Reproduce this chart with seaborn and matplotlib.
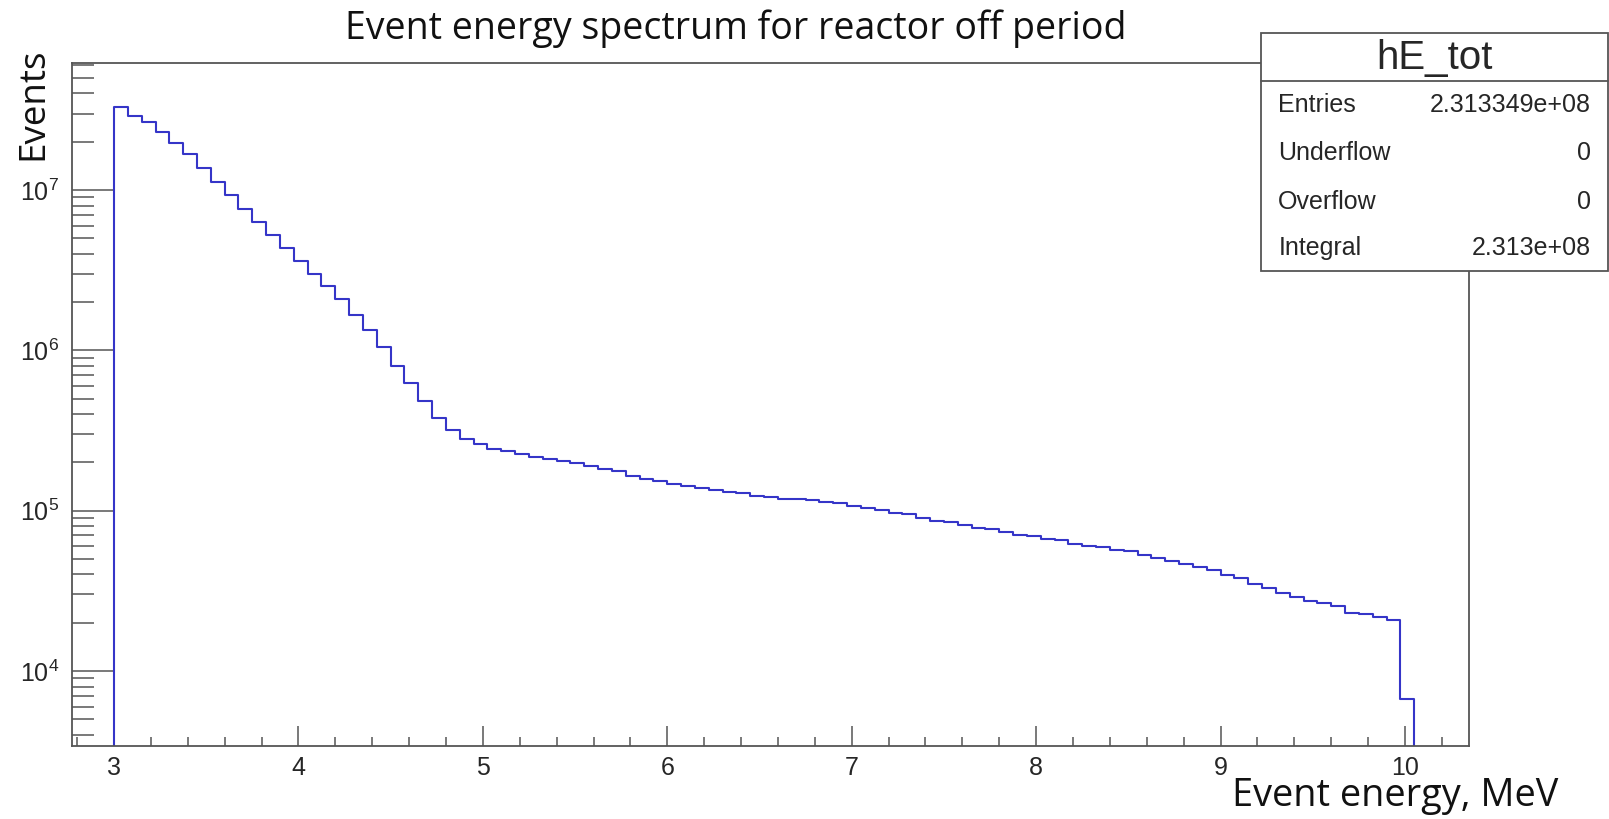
import numpy as np
import pandas as pd
import matplotlib
matplotlib.use("Agg")
import matplotlib.pyplot as plt
import seaborn as sns
from matplotlib.ticker import MultipleLocator, LogLocator, LogFormatterSciNotation, NullFormatter
from matplotlib.patches import Rectangle
from matplotlib.lines import Line2D

# ---------------- data ----------------
E_MIN = 3.0
BIN_W = 0.075
events = [
    3.28e7, 2.91e7, 2.64e7, 2.31e7, 1.96e7, 1.67e7, 1.38e7, 1.127e7, 9.31e6, 7.61e6,
    6.34e6, 5.24e6, 4.37e6, 3.61e6, 2.99e6, 2.52e6, 2.08e6, 1.66e6, 1.34e6, 1.044e6,
    8.02e5, 6.25e5, 4.80e5, 3.78e5, 3.17e5, 2.81e5, 2.59e5, 2.43e5, 2.35e5, 2.26e5,
    2.17e5, 2.09e5, 2.05e5, 1.97e5, 1.89e5, 1.82e5, 1.76e5, 1.64e5, 1.58e5, 1.52e5,
    1.46e5, 1.43e5, 1.38e5, 1.34e5, 1.31e5, 1.28e5, 1.23e5, 1.21e5, 1.19e5, 1.18e5,
    1.16e5, 1.13e5, 1.11e5, 1.07e5, 1.04e5, 1.01e5, 9.70e4, 9.48e4, 8.95e4, 8.61e4,
    8.45e4, 8.10e4, 7.75e4, 7.64e4, 7.36e4, 7.04e4, 6.91e4, 6.62e4, 6.53e4, 6.16e4,
    6.01e4, 5.90e4, 5.68e4, 5.57e4, 5.26e4, 5.06e4, 4.87e4, 4.66e4, 4.47e4, 4.24e4,
    3.98e4, 3.78e4, 3.47e4, 3.28e4, 3.07e4, 2.90e4, 2.74e4, 2.64e4, 2.54e4, 2.31e4,
    2.26e4, 2.16e4, 2.08e4, 6.71e3,
]
x_ticks = [3, 4, 5, 6, 7, 8, 9, 10]
title = "Event energy spectrum for reactor off period"
x_label = "Event energy, MeV"
y_label = "Events"
stats_name = "hE_tot"
stats_rows = [("Entries", "2.313349e+08"), ("Underflow", "0"), ("Overflow", "0"), ("Integral", "2.313e+08")]

n_bins = len(events)
E_MAX = E_MIN + BIN_W * n_bins
centers = [E_MIN + BIN_W * (i + 0.5) for i in range(n_bins)]
df = pd.DataFrame({"energy": centers, "events": events})

# ---------------- style ----------------
sns.set_style("ticks")
plt.rcParams["font.family"] = ["Liberation Sans", "DejaVu Sans"]
plt.rcParams["mathtext.fontset"] = "custom"
plt.rcParams["mathtext.rm"] = "Liberation Sans"
plt.rcParams["mathtext.it"] = "Liberation Sans"
plt.rcParams["mathtext.default"] = "regular"

W, H = 1609, 819
fig = plt.figure(figsize=(W / 100, H / 100), dpi=100)
L, R, T, B = 71.7, 1469, 63.3, 746
ax = fig.add_axes([L / W, 1 - B / H, (R - L) / W, (B - T) / H])

line_col = "#3535c8"
frame_col = "#555555"

sns.histplot(data=df, x="energy", weights="events", bins=n_bins, binrange=(E_MIN, E_MAX),
             element="step", fill=False, color=line_col, linewidth=1.5, ax=ax)
ax.set_yscale("log")
ax.set_xlim(2.7706, 10.347)
ax.set_ylim(3404, 6.17e7)
# vertical closing edges of the histogram
ax.vlines([E_MIN, E_MAX], 1e-3, [events[0], events[-1]], color=line_col, linewidth=1.5)

ax.set_xlabel("")
ax.set_ylabel("")

for s in ["top", "right", "left", "bottom"]:
    ax.spines[s].set_color(frame_col)
    ax.spines[s].set_linewidth(1.3)

ax.xaxis.set_major_locator(MultipleLocator(1))
ax.xaxis.set_minor_locator(MultipleLocator(0.2))
ax.set_xticks(x_ticks)
ax.yaxis.set_major_locator(LogLocator(base=10))
ax.yaxis.set_minor_locator(LogLocator(base=10, subs=np.arange(2, 10)))
ax.yaxis.set_major_formatter(LogFormatterSciNotation())
ax.yaxis.set_minor_formatter(NullFormatter())

ax.tick_params(axis="x", which="major", direction="in", length=14.4, width=1.1, color=frame_col,
               labelsize=18, pad=7.5, top=False)
ax.tick_params(axis="x", which="minor", direction="in", length=6.7, width=1.1, color=frame_col, top=False)
ax.tick_params(axis="y", which="major", direction="in", length=30, width=1.1, color=frame_col,
               labelsize=18, pad=9, right=False)
ax.tick_params(axis="y", which="minor", direction="in", length=16, width=1.1, color=frame_col, right=False)

# titles
seg = ["Open Sans", "DejaVu Sans"]
fig.text(736 / W, 1 - 38.5 / H, title, ha="center", va="baseline", fontsize=27, family=seg, color="#111111")
fig.text(1558 / W, 1 - 806 / H, x_label, ha="right", va="baseline", fontsize=27.3, family=seg, color="#111111")
fig.text(33.5 / W, 1 - 47 / H, y_label, ha="center", va="top", rotation=90, fontsize=26.5, family=seg, color="#111111")

# stats box
bx0, by0, bx1, by1 = 1261, 32.7, 1607.7, 270.7
fig.patches.append(Rectangle((bx0 / W, 1 - by1 / H), (bx1 - bx0) / W, (by1 - by0) / H,
                             transform=fig.transFigure, facecolor="white", edgecolor=frame_col,
                             linewidth=1.3, zorder=5))
fig.lines.append(Line2D([bx0 / W, bx1 / W], [1 - 81 / H, 1 - 81 / H], transform=fig.transFigure,
                        color=frame_col, linewidth=1.3, zorder=6))
fig.text((bx0 + bx1) / 2 / W, 1 - 58 / H, stats_name, ha="center", va="center", fontsize=29, zorder=7)
row_y = [105, 153.3, 201.7, 248.3]
for (k, v), yy in zip(stats_rows, row_y):
    fig.text(1278.3 / W, 1 - yy / H, k, ha="left", va="center", fontsize=18, zorder=7)
    fig.text(1590.7 / W, 1 - yy / H, v, ha="right", va="center", fontsize=18, zorder=7)

fig.savefig("out.png", dpi=100)
